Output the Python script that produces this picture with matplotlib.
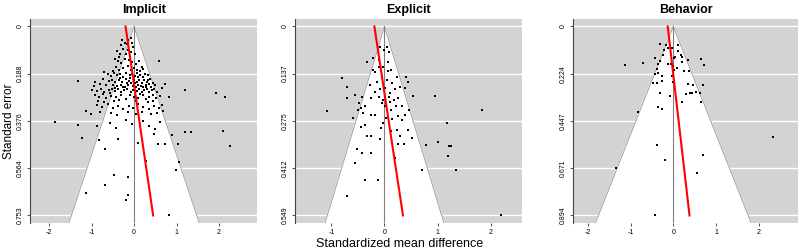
import matplotlib.pyplot as plt
import numpy as np

plt.rcParams['font.family'] = ['Liberation Sans', 'DejaVu Sans']

# ---- data ----
titles = ['Implicit', 'Explicit', 'Behavior']

# implicit: (standardized mean difference, standard error)
implicit_pts = [
    (-0.28, 0.053), (-0.21, 0.064), (-0.17, 0.068), (-0.14, 0.055), (-0.08, 0.046), (-0.04, 0.066),
    (-0.40, 0.097), (-0.34, 0.108), (-0.25, 0.088), (-0.20, 0.110), (-0.14, 0.095), (-0.06, 0.101),
    (0.02, 0.108), (-0.35, 0.121), (-0.02, 0.080), (-0.30, 0.075),
    (-0.45, 0.131), (-0.38, 0.138), (-0.30, 0.145), (-0.22, 0.128), (-0.12, 0.135), (-0.05, 0.142),
    (0.05, 0.150), (0.12, 0.138), (0.18, 0.160), (0.22, 0.170), (-0.42, 0.160), (-0.35, 0.172),
    (-0.25, 0.165), (-0.15, 0.158), (0.00, 0.165), (0.08, 0.175), (-0.50, 0.178), (0.58, 0.138),
    (-0.08, 0.172), (0.15, 0.178),
    (-0.70, 0.182), (-0.62, 0.190), (-0.55, 0.198), (-0.48, 0.186), (-0.40, 0.195), (-0.32, 0.190),
    (-0.25, 0.200), (-0.18, 0.185), (-0.10, 0.192), (-0.04, 0.188), (0.02, 0.196), (0.08, 0.185),
    (0.14, 0.192), (0.20, 0.200), (0.26, 0.188), (0.32, 0.195), (0.38, 0.208), (-0.72, 0.210),
    (-0.60, 0.218), (-0.52, 0.212), (-0.44, 0.220), (-0.36, 0.215), (-0.28, 0.222), (-0.20, 0.210),
    (-0.12, 0.218), (-0.06, 0.225), (0.00, 0.212), (0.06, 0.220), (0.12, 0.215), (0.18, 0.225),
    (0.24, 0.212), (0.30, 0.222), (0.36, 0.230), (0.44, 0.226), (-0.91, 0.222), (-0.80, 0.230),
    (-1.33, 0.219), (-0.95, 0.238), (-0.65, 0.235), (-0.50, 0.232), (-0.40, 0.238), (-0.30, 0.234),
    (-0.22, 0.240), (-0.14, 0.232), (-0.02, 0.236), (0.04, 0.240), (0.10, 0.232), (0.16, 0.238),
    (0.22, 0.240), (0.28, 0.235), (0.50, 0.232), (0.73, 0.231), (0.65, 0.246),
    (-0.98, 0.252), (-0.88, 0.258), (-0.78, 0.250), (-0.70, 0.262), (-0.60, 0.255), (-0.52, 0.248),
    (-0.45, 0.258), (-0.38, 0.250), (-0.30, 0.262), (-0.24, 0.255), (-0.16, 0.248), (-0.08, 0.260),
    (-0.02, 0.252), (0.06, 0.258), (0.12, 0.250), (0.18, 0.262), (0.24, 0.255), (0.30, 0.248),
    (0.36, 0.262), (0.42, 0.255), (0.48, 0.250), (0.55, 0.262), (1.19, 0.252), (-0.92, 0.272),
    (-0.82, 0.280), (-0.74, 0.270), (-0.66, 0.285), (-0.55, 0.278), (-0.42, 0.282), (-0.30, 0.275),
    (-0.20, 0.288), (-0.10, 0.272), (0.00, 0.280), (0.10, 0.285), (0.20, 0.275), (0.28, 0.290),
    (0.36, 0.280), (0.44, 0.272), (0.52, 0.286), (0.60, 0.278), (0.83, 0.281), (1.94, 0.265),
    (2.14, 0.283), (-0.85, 0.296), (-0.70, 0.300), (-0.48, 0.298), (-0.35, 0.292), (0.05, 0.298),
    (0.32, 0.300), (0.45, 0.295),
    (-0.88, 0.312), (-0.75, 0.320), (-0.62, 0.308), (-0.50, 0.325), (-0.38, 0.315), (-0.25, 0.330),
    (-0.12, 0.318), (-0.02, 0.325), (0.10, 0.310), (0.22, 0.320), (0.35, 0.328), (0.48, 0.315),
    (0.58, 0.325), (0.65, 0.312), (-1.02, 0.347), (-1.14, 0.338), (-0.80, 0.340), (-0.55, 0.345),
    (-0.40, 0.352), (-0.15, 0.340), (0.05, 0.348), (0.18, 0.342), (0.40, 0.350), (0.55, 0.345),
    (0.68, 0.338),
    (-1.86, 0.381), (-1.33, 0.392), (-1.23, 0.444), (-0.87, 0.397), (-0.82, 0.452), (-0.57, 0.384),
    (-0.42, 0.403), (-0.37, 0.447), (-0.20, 0.372), (-0.05, 0.390), (0.20, 0.378), (0.35, 0.395),
    (0.46, 0.430), (0.50, 0.410), (0.57, 0.467), (0.72, 0.467), (0.90, 0.434), (1.20, 0.420),
    (1.33, 0.420), (2.09, 0.418), (0.09, 0.463), (0.62, 0.380), (-0.68, 0.488), (1.04, 0.467),
    (2.27, 0.477),
    (0.28, 0.535), (1.07, 0.541), (0.98, 0.570), (-0.48, 0.590), (-0.68, 0.633), (-1.13, 0.665),
    (-0.15, 0.600), (-0.14, 0.673), (-0.18, 0.691), (0.83, 0.752),
    (-0.33, 0.205), (0.09, 0.203), (-0.16, 0.226), (0.27, 0.243), (-0.57, 0.266), (0.15, 0.268),
    (-0.27, 0.243), (0.33, 0.212), (-0.09, 0.205), (0.41, 0.240), (-0.46, 0.244), (0.03, 0.226),
]

explicit_pts = [
    (-1.09, 0.247), (-0.79, 0.151), (-0.71, 0.177), (-0.71, 0.208), (-0.55, 0.199), (-0.59, 0.266),
    (-0.43, 0.204), (-0.48, 0.223), (-0.45, 0.237), (-0.50, 0.242), (-0.44, 0.292), (-0.36, 0.285),
    (-0.26, 0.256), (-0.18, 0.256), (-0.33, 0.319), (-0.26, 0.317), (-0.52, 0.357), (-0.43, 0.367),
    (-0.25, 0.369), (-0.55, 0.398), (-0.36, 0.446), (-0.13, 0.446), (-0.71, 0.492), (-0.08, 0.328),
    (-0.07, 0.295), (-0.33, 0.103), (-0.21, 0.093), (-0.11, 0.098), (-0.08, 0.060), (0.00, 0.069),
    (0.09, 0.074), (0.04, 0.060), (-0.18, 0.132), (-0.22, 0.127), (-0.11, 0.117), (-0.02, 0.117),
    (0.06, 0.103), (0.13, 0.127), (-0.05, 0.146), (0.04, 0.156), (0.14, 0.165), (0.23, 0.148),
    (0.41, 0.148), (0.45, 0.160), (0.39, 0.180), (0.29, 0.175), (0.20, 0.182), (0.11, 0.194),
    (0.01, 0.180), (-0.08, 0.182), (-0.18, 0.189), (-0.25, 0.208), (-0.11, 0.205), (-0.02, 0.213),
    (0.08, 0.204), (0.17, 0.213), (0.26, 0.208), (0.54, 0.202), (0.95, 0.202), (0.33, 0.232),
    (0.21, 0.232), (0.12, 0.242), (0.01, 0.230), (-0.05, 0.223), (0.46, 0.242), (0.39, 0.256),
    (0.25, 0.261), (0.14, 0.269), (0.03, 0.266), (-0.02, 0.280), (0.33, 0.273), (0.23, 0.300),
    (0.13, 0.304), (0.29, 0.319), (0.45, 0.302), (0.51, 0.324), (0.36, 0.340), (0.26, 0.340),
    (0.79, 0.345), (1.01, 0.336), (1.18, 0.280), (1.83, 0.242), (1.21, 0.347), (1.26, 0.347),
    (1.20, 0.376), (1.34, 0.418), (0.70, 0.418), (0.20, 0.381), (2.20, 0.549), (-0.36, 0.232),
    (-0.15, 0.160), (-0.28, 0.170), (0.07, 0.130), (-0.40, 0.250), (0.10, 0.220),
]

behavior_pts = [
    (-1.13, 0.180), (-0.70, 0.175), (-0.43, 0.148), (-0.30, 0.081), (-0.17, 0.086), (-0.13, 0.102),
    (-0.22, 0.113), (-0.25, 0.136), (-0.30, 0.164), (-0.35, 0.178), (-0.39, 0.200), (-0.35, 0.219),
    (-0.43, 0.225), (-0.47, 0.269), (-0.39, 0.266), (-0.27, 0.256), (-0.31, 0.313), (-0.26, 0.234),
    (-0.13, 0.178), (-0.05, 0.178), (-0.02, 0.102), (0.10, 0.089), (0.12, 0.116), (0.02, 0.147),
    (0.05, 0.144), (0.17, 0.136), (0.20, 0.144), (0.21, 0.167), (0.00, 0.188), (0.02, 0.206),
    (0.08, 0.198), (-0.02, 0.234), (0.00, 0.261), (-0.08, 0.331), (0.26, 0.209), (0.36, 0.209),
    (0.34, 0.159), (0.64, 0.156), (0.73, 0.183), (0.69, 0.278), (0.45, 0.278), (0.35, 0.272),
    (0.30, 0.319), (0.38, 0.316), (0.43, 0.316), (0.53, 0.309), (0.63, 0.313), (0.65, 0.355),
    (0.21, 0.359), (-0.36, 0.381), (-0.26, 0.391), (-0.82, 0.406), (2.34, 0.522), (-0.39, 0.563),
    (0.69, 0.610), (-0.19, 0.633), (-1.33, 0.669), (0.56, 0.692), (-0.43, 0.894),
]

# y ticks (standard error) per panel
se_ticks = [
    [0, 0.188, 0.376, 0.564, 0.753],
    [0, 0.137, 0.275, 0.412, 0.549],
    [0, 0.224, 0.447, 0.671, 0.894],
]
se_labels = [
    ['0', '0.188', '0.376', '0.564', '0.753'],
    ['0', '0.137', '0.275', '0.412', '0.549'],
    ['0', '0.224', '0.447', '0.671', '0.894'],
]
x_ticks = [[-2, -1, 0, 1, 2], [-1, 0, 1, 2], [-2, -1, 0, 1, 2]]
x_limits = [(-2.45, 2.9), (-1.68, 2.58), (-2.34, 2.92)]

# red regression lines: x = intercept + slope * se
reg_intercept = [-0.20, -0.19, -0.13]
reg_slope = [0.863, 0.98, 0.57]

all_pts = [implicit_pts, explicit_pts, behavior_pts]

fig = plt.figure(figsize=(8, 2.52), dpi=100)
axes_pos = [
    [0.0375, 0.115, 0.284, 0.81],
    [0.369, 0.115, 0.283, 0.81],
    [0.7166, 0.115, 0.281, 0.81],
]

for i in range(3):
    ax = fig.add_axes(axes_pos[i])
    pts = np.array(all_pts[i])
    smax = se_ticks[i][-1]
    ypad = 0.04 * smax
    ylo, yhi = -ypad, smax + ypad
    xlo, xhi = x_limits[i]

    ax.set_facecolor('#d3d3d3')
    for t in se_ticks[i]:
        ax.axhline(t, color='white', lw=1.0, zorder=1)

    # pseudo confidence funnel
    fx = [-1.96 * yhi, 0, 1.96 * yhi]
    fy = [yhi, 0, yhi]
    ax.fill(fx, fy, color='white', zorder=2)
    ax.plot(fx, fy, color='#a0a0a0', lw=0.7, zorder=3)
    ax.plot([0, 0], [0, yhi], color='#808080', lw=0.8, zorder=3)

    ax.scatter(pts[:, 0], pts[:, 1], s=3.0, marker='s', color='black',
               linewidths=0, zorder=4)

    se_line = np.array([0, smax])
    ax.plot(reg_intercept[i] + reg_slope[i] * se_line, se_line,
            color='red', lw=1.5, zorder=5)

    ax.set_xlim(xlo, xhi)
    ax.set_ylim(yhi, ylo)
    ax.set_yticks(se_ticks[i])
    ax.set_yticklabels(se_labels[i], rotation=90, va='center', fontsize=5)
    ax.set_xticks(x_ticks[i])
    ax.set_xticklabels([str(v) for v in x_ticks[i]], fontsize=5)
    ax.tick_params(length=2.5, width=0.6, color='#333333', pad=2)

    for s in ['top', 'right']:
        ax.spines[s].set_visible(False)
    ax.spines['left'].set_color('#444444')
    ax.spines['left'].set_linewidth(0.8)
    ax.spines['bottom'].set_visible(False)

    ax.set_title(titles[i], fontsize=9, fontweight='bold', pad=4)

fig.text(0.011, 0.52, 'Standard error', rotation=90, ha='center', va='center', fontsize=8.5)
fig.text(0.5, 0.03, 'Standardized mean difference', ha='center', va='center', fontsize=9)

fig.savefig('out.png', dpi=100)
